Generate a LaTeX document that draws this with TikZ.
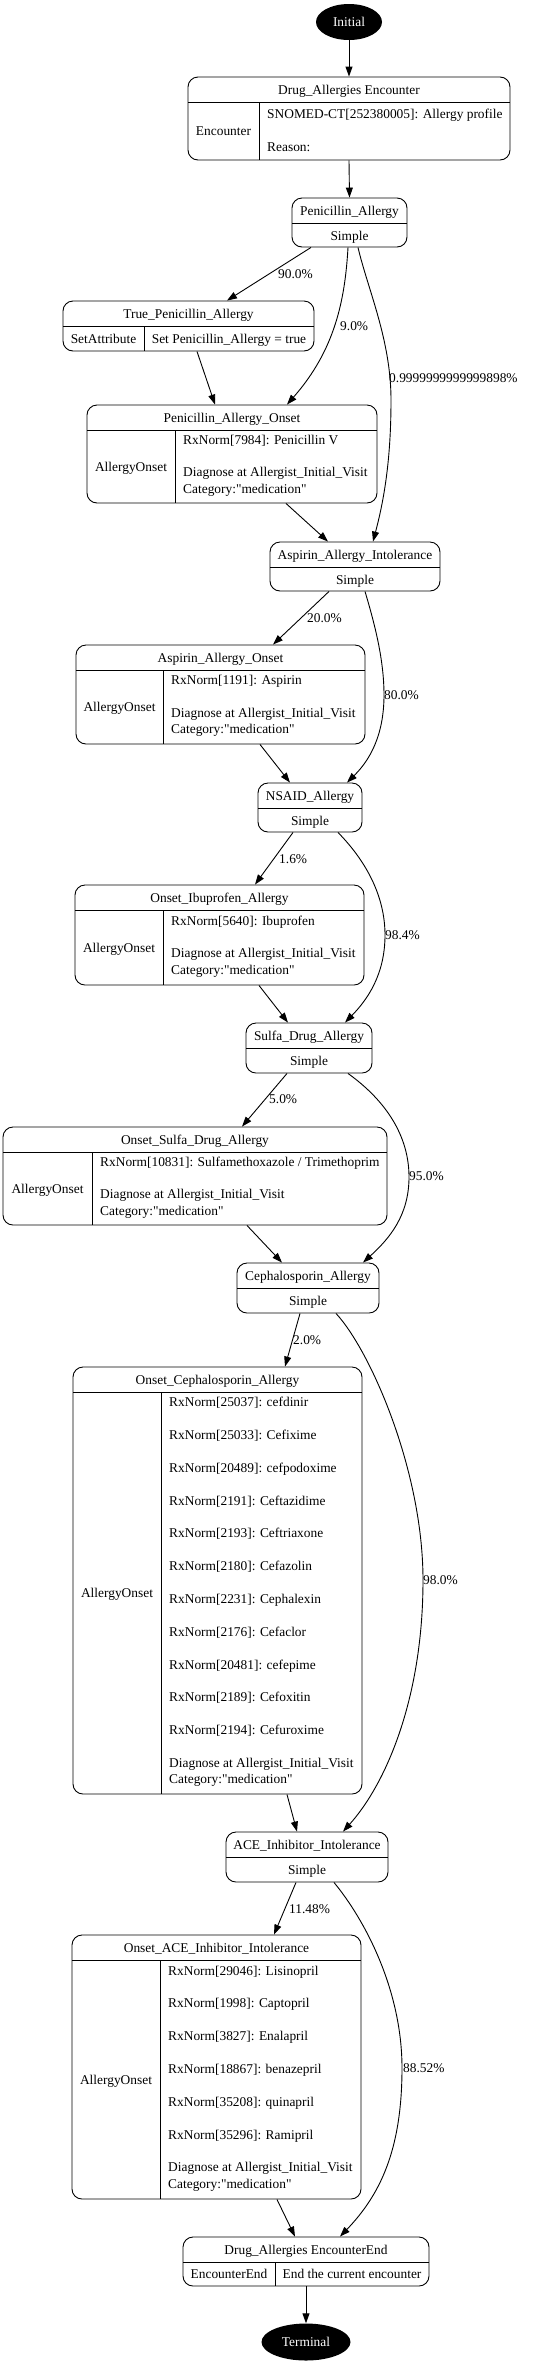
\documentclass[tikz,border=0pt]{standalone}
\usepackage{fontspec}
\setmainfont{Liberation Serif}[Ligatures=TeXOff]
\usetikzlibrary{arrows.meta,shapes.geometric}
\newcommand\myfs{\fontsize{13.4}{16.4}\selectfont}
\tikzset{
  recbox/.style={draw, rounded corners=10pt, inner sep=0pt, line width=0.9pt},
  divline/.style={line width=0.9pt},
  ctext/.style={inner sep=0pt, text height=9.4pt, text depth=0.4pt, font=\myfs},
  body/.style={inner sep=0pt, anchor=west, align=left, font=\myfs},
  plabel/.style={inner sep=0pt, anchor=west, text height=9.4pt, text depth=0.4pt, font=\myfs},
  conn/.style={draw, line width=0.9pt, -{Triangle[length=10pt,width=7pt]}},
  termnode/.style={ellipse, fill=black, text=white, inner sep=0pt, font=\myfs},
}
\newcommand\rbox[5]{\node[recbox, minimum width={(#4)-(#2)}, minimum height={(#5)-(#3)}] (#1) at ({((#2)+(#4))/2},{((#3)+(#5))/2}) {};}
\newcommand\simplebox[6]{%
  \rbox{#1}{#2}{#3}{#4}{#5}
  \draw[divline] (#2,{(#3)+25}) -- (#4,{(#3)+25});
  \node[ctext] (#1T) at ({((#2)+(#4))/2},{(#3)+12.5}) {#6};
  \node[ctext] (#1S) at ({((#2)+(#4))/2},{(#3)+37.5}) {Simple};}
\newcommand\onsetbox[8]{%
  \rbox{#1}{#2}{#3}{#4}{#5}
  \draw[divline] (#2,{(#3)+25}) -- (#4,{(#3)+25});
  \draw[divline] (#6,{(#3)+25}) -- (#6,#5);
  \node[ctext] (#1T) at ({((#2)+(#4))/2},{(#3)+12.5}) {#7};
  \node[ctext] (#1L) at ({((#2)+(#6))/2},{((#3)+25+(#5))/2}) {AllergyOnset};
  \node[body] (#1B) at ({(#6)+8},{((#3)+25+(#5))/2-1}) {#8};}
\begin{document}
\begin{tikzpicture}[x=1pt,y=-1pt]
\useasboundingbox (0,0) rectangle (543,2364);

% Initial
\node[termnode, minimum width=66pt, minimum height=36pt] (init) at (349,22) {Initial};

% Encounter
\rbox{enc}{188}{77}{510}{160}
\draw[divline] (188,102) -- (510,102);
\draw[divline] (259,102) -- (259,160);
\node[ctext] (encT) at (349,89.5) {Drug\_Allergies Encounter};
\node[ctext] (encL) at (223.5,131) {Encounter};
\node[body] (encB) at (267,130) {SNOMED-CT[252380005]: Allergy profile\\[16.4pt]Reason:};

\simplebox{pa}{292}{198}{407}{247}{Penicillin\_Allergy}

% True_Penicillin_Allergy
\rbox{tpa}{63}{301}{314}{351}
\draw[divline] (63,326) -- (314,326);
\draw[divline] (144,326) -- (144,351);
\node[ctext] (tpaT) at (188.5,313.5) {True\_Penicillin\_Allergy};
\node[ctext] (tpaL) at (103.5,338.5) {SetAttribute};
\node[ctext] (tpaR) at (229,338.5) {Set Penicillin\_Allergy = true};

\onsetbox{pao}{87}{405}{377}{503}{175}{Penicillin\_Allergy\_Onset}{RxNorm[7984]: Penicillin V\\[16.4pt]Diagnose at Allergist\_Initial\_Visit\\Category:"medication"}

\simplebox{aai}{270}{542}{440}{591}{Aspirin\_Allergy\_Intolerance}

\onsetbox{aao}{76}{645}{365}{744}{163}{Aspirin\_Allergy\_Onset}{RxNorm[1191]: Aspirin\\[16.4pt]Diagnose at Allergist\_Initial\_Visit\\Category:"medication"}

\simplebox{nsaid}{258}{783}{362}{832}{NSAID\_Allergy}

\onsetbox{oia}{75}{885}{364}{985}{163}{Onset\_Ibuprofen\_Allergy}{RxNorm[5640]: Ibuprofen\\[16.4pt]Diagnose at Allergist\_Initial\_Visit\\Category:"medication"}

\simplebox{sda}{246}{1023}{372}{1073}{Sulfa\_Drug\_Allergy}

\onsetbox{osda}{3}{1127}{387}{1225}{92}{Onset\_Sulfa\_Drug\_Allergy}{RxNorm[10831]: Sulfamethoxazole / Trimethoprim\\[16.4pt]Diagnose at Allergist\_Initial\_Visit\\Category:"medication"}

\simplebox{ca}{237}{1263}{379}{1313}{Cephalosporin\_Allergy}

\onsetbox{oca}{73}{1367}{362}{1794}{161}{Onset\_Cephalosporin\_Allergy}{RxNorm[25037]: cefdinir\\[16.4pt]RxNorm[25033]: Cefixime\\[16.4pt]RxNorm[20489]: cefpodoxime\\[16.4pt]RxNorm[2191]: Ceftazidime\\[16.4pt]RxNorm[2193]: Ceftriaxone\\[16.4pt]RxNorm[2180]: Cefazolin\\[16.4pt]RxNorm[2231]: Cephalexin\\[16.4pt]RxNorm[2176]: Cefaclor\\[16.4pt]RxNorm[20481]: cefepime\\[16.4pt]RxNorm[2189]: Cefoxitin\\[16.4pt]RxNorm[2194]: Cefuroxime\\[16.4pt]Diagnose at Allergist\_Initial\_Visit\\Category:"medication"}

\simplebox{ace}{226}{1832}{388}{1882}{ACE\_Inhibitor\_Intolerance}

\onsetbox{oace}{72}{1935}{361}{2199}{160}{Onset\_ACE\_Inhibitor\_Intolerance}{RxNorm[29046]: Lisinopril\\[16.4pt]RxNorm[1998]: Captopril\\[16.4pt]RxNorm[3827]: Enalapril\\[16.4pt]RxNorm[18867]: benazepril\\[16.4pt]RxNorm[35208]: quinapril\\[16.4pt]RxNorm[35296]: Ramipril\\[16.4pt]Diagnose at Allergist\_Initial\_Visit\\Category:"medication"}

% EncounterEnd
\rbox{ee}{183}{2237}{429}{2286}
\draw[divline] (183,2262) -- (429,2262);
\draw[divline] (275,2262) -- (275,2286);
\node[ctext] (eeT) at (306,2249.5) {Drug\_Allergies EncounterEnd};
\node[ctext] (eeL) at (229,2274) {EncounterEnd};
\node[ctext] (eeR) at (352,2274) {End the current encounter};

% Terminal
\node[termnode, minimum width=89pt, minimum height=37pt] (term) at (306,2342) {Terminal};

% connectors
\draw[conn] (init) -- (enc);
\draw[conn] (enc.south) -- (pa.north);
\draw[conn] ([xshift=-38.5pt]pa.south) -- ([xshift=38.5pt]tpa.north);
\draw[conn] ([xshift=8.5pt]tpa.south) -- ([xshift=-17pt]pao.north);
\draw[conn] ([xshift=-1.5pt]pa.south) .. controls (345,300) and (335,350) .. ([xshift=55pt]pao.north);
\draw[conn] ([xshift=8.5pt]pa.south) .. controls (368,290) and (391,340) .. (391,400) .. controls (391,460) and (384,500) .. ([xshift=18pt]aai.north);
\draw[conn] ([xshift=54pt]pao.south) -- ([xshift=-27pt]aai.north);
\draw[conn] ([xshift=-26pt]aai.south) -- ([xshift=52.5pt]aao.north);
\draw[conn] ([xshift=10pt]aai.south) .. controls (375,625) and (384,660) .. (384,695) .. controls (384,735) and (370,760) .. ([xshift=37pt]nsaid.north);
\draw[conn] ([xshift=39.5pt]aao.south) -- ([xshift=-20pt]nsaid.north);
\draw[conn] ([xshift=-17pt]nsaid.south) -- ([xshift=35.5pt]oia.north);
\draw[conn] ([xshift=28pt]nsaid.south) .. controls (365,860) and (385,895) .. (385,935) .. controls (385,975) and (367,1000) .. ([xshift=36pt]sda.north);
\draw[conn] ([xshift=39.5pt]oia.south) -- ([xshift=-21pt]sda.north);
\draw[conn] ([xshift=-22pt]sda.south) -- ([xshift=47pt]osda.north);
\draw[conn] ([xshift=39pt]sda.south) .. controls (385,1100) and (409,1135) .. (409,1177) .. controls (409,1215) and (390,1238) .. ([xshift=55pt]ca.north);
\draw[conn] ([xshift=52pt]osda.south) -- ([xshift=-26pt]ca.north);
\draw[conn] ([xshift=-8pt]ca.south) -- ([xshift=67.5pt]oca.north);
\draw[conn] ([xshift=28pt]ca.south) .. controls (370,1350) and (423,1470) .. (423,1580) .. controls (423,1700) and (385,1785) .. ([xshift=36pt]ace.north);
\draw[conn] ([xshift=69.5pt]oca.south) -- ([xshift=-10pt]ace.north);
\draw[conn] ([xshift=-11pt]ace.south) -- ([xshift=57.5pt]oace.north);
\draw[conn] ([xshift=27pt]ace.south) .. controls (365,1920) and (402,1990) .. (402,2068) .. controls (402,2150) and (380,2195) .. ([xshift=34pt]ee.north);
\draw[conn] ([xshift=60.5pt]oace.south) -- ([xshift=-11pt]ee.north);
\draw[conn] (ee) -- (term);

% labels
\node[plabel] (l1) at (278,274) {90.0\%};
\node[plabel] (l2) at (340,326) {9.0\%};
\node[plabel] (l3) at (389,378) {0.9999999999999898\%};
\node[plabel] (l4) at (307,618) {20.0\%};
\node[plabel] (l5) at (384,695) {80.0\%};
\node[plabel] (l6) at (279,859) {1.6\%};
\node[plabel] (l7) at (385,935) {98.4\%};
\node[plabel] (l8) at (269,1099) {5.0\%};
\node[plabel] (l9) at (409,1176) {95.0\%};
\node[plabel] (l10) at (293,1340) {2.0\%};
\node[plabel] (l11) at (423,1580) {98.0\%};
\node[plabel] (l12) at (289,1909) {11.48\%};
\node[plabel] (l13) at (403,2068) {88.52\%};
\end{tikzpicture}
\end{document}
